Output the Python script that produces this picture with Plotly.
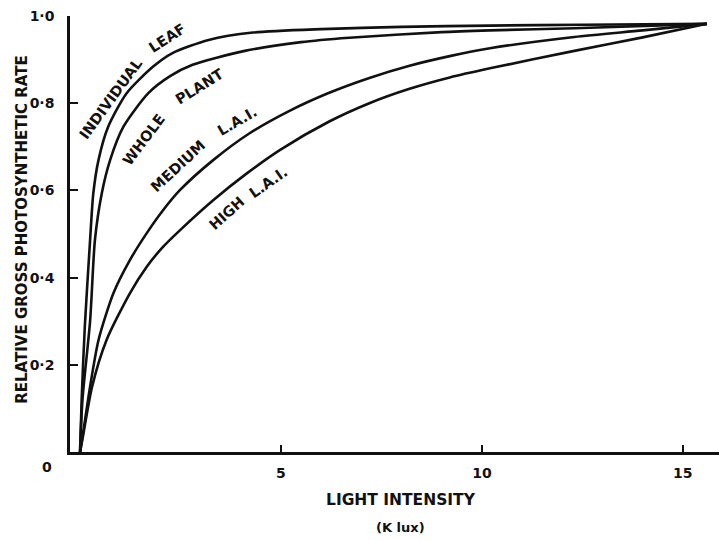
import plotly.graph_objects as go

# ---- data ----
series_names = ["INDIVIDUAL LEAF", "WHOLE PLANT", "MEDIUM L.A.I.", "HIGH L.A.I."]

leaf_x = [0, 0.04, 0.12, 0.25, 0.33, 0.46, 0.70, 1.16, 1.82, 2.3, 3.2, 4.3, 6.0, 8.0, 10.2, 12.5, 15.6]
leaf_y = [0, 0.12, 0.29, 0.486, 0.593, 0.67, 0.746, 0.823, 0.884, 0.915, 0.945, 0.962, 0.970, 0.975, 0.978, 0.980, 0.982]

plant_x = [0, 0.06, 0.25, 0.37, 0.54, 0.75, 1.08, 1.70, 2.24, 2.8, 4.1, 5.5, 6.7, 9.0, 10.2, 12.3, 15.6]
plant_y = [0, 0.12, 0.30, 0.486, 0.593, 0.67, 0.746, 0.823, 0.862, 0.888, 0.92, 0.94, 0.95, 0.963, 0.967, 0.972, 0.982]

medium_x = [0, 0.07, 0.25, 0.46, 0.83, 1.24, 1.66, 2.07, 2.49, 3.32, 4.2, 5.2, 6.2, 7.2, 8.2, 9.2, 10.2, 12.3, 14.0, 15.6]
medium_y = [0, 0.04, 0.15, 0.257, 0.364, 0.44, 0.502, 0.555, 0.601, 0.67, 0.73, 0.782, 0.824, 0.858, 0.886, 0.908, 0.926, 0.952, 0.967, 0.982]

high_x = [0, 0.07, 0.3, 0.66, 1.24, 1.66, 2.07, 2.49, 3.32, 4.15, 4.98, 6.2, 7.2, 8.2, 9.2, 10.2, 12.3, 14.0, 15.6]
high_y = [0, 0.035, 0.15, 0.257, 0.364, 0.425, 0.471, 0.509, 0.578, 0.639, 0.693, 0.758, 0.800, 0.833, 0.859, 0.880, 0.920, 0.951, 0.982]

x_tick_vals = [5, 10, 15]
x_tick_text = ["5", "10", "15"]
y_tick_vals = [0.2, 0.4, 0.6, 0.8, 1.0]
y_tick_text = ["0·2", "0·4", "0·6", "0·8", "1·0"]

# curve labels split into words that follow the curves
label_words = ["INDIVIDUAL", "LEAF", "WHOLE", "PLANT", "MEDIUM", "L.A.I.", "HIGH", "L.A.I."]
label_pos_x = [0.76, 2.17, 1.58, 2.96, 2.44, 3.92, 3.66, 4.70]
label_pos_y = [0.810, 0.950, 0.716, 0.837, 0.656, 0.759, 0.548, 0.619]
label_angle = [-54, -33, -53, -32, -43, -30, -42, -35]

FONT = "DejaVu Sans"
INK = "#111111"

fig = go.Figure()
for name, xs, ys in zip(series_names,
                        [leaf_x, plant_x, medium_x, high_x],
                        [leaf_y, plant_y, medium_y, high_y]):
    fig.add_trace(go.Scatter(x=xs, y=ys, mode="lines", name=name,
                             line=dict(color=INK, width=2.6, shape="spline", smoothing=0.7),
                             cliponaxis=False, showlegend=False))

annotations = []
for t, ax_, ay_, ang in zip(label_words, label_pos_x, label_pos_y, label_angle):
    annotations.append(dict(x=ax_, y=ay_, xref="x", yref="y", text=t, textangle=ang,
                            xanchor="center", yanchor="middle", showarrow=False,
                            font=dict(family=FONT, size=14.5, color=INK, weight="bold")))

annotations += [
    dict(x=-0.0354, y=-0.0344, xref="paper", yref="paper", text="0", showarrow=False,
         xanchor="center", yanchor="middle",
         font=dict(family=FONT, size=14, color=INK, weight="bold")),
    dict(x=-0.074, y=0.512, xref="paper", yref="paper", text="RELATIVE GROSS PHOTOSYNTHETIC RATE",
         textangle=-90, showarrow=False, xanchor="center", yanchor="middle",
         font=dict(family=FONT, size=15, color=INK, weight="bold")),
    dict(x=0.51, y=-0.11, xref="paper", yref="paper", text="LIGHT INTENSITY",
         showarrow=False, xanchor="center", yanchor="middle",
         font=dict(family=FONT, size=15.5, color=INK, weight="bold")),
    dict(x=0.51, y=-0.173, xref="paper", yref="paper", text="(K lux)",
         showarrow=False, xanchor="center", yanchor="middle",
         font=dict(family=FONT, size=13, color=INK, weight="bold")),
]

fig.update_layout(
    width=719, height=540,
    margin=dict(l=70, r=0, t=16, b=88, pad=0),
    paper_bgcolor="white", plot_bgcolor="white",
    annotations=annotations,
    xaxis=dict(range=[-0.25, 15.9], showgrid=False, zeroline=False,
               showline=True, linecolor=INK, linewidth=2.5,
               ticks="inside", ticklen=7, tickwidth=2, tickcolor=INK,
               tickvals=x_tick_vals, ticktext=x_tick_text, ticklabelstandoff=6,
               tickfont=dict(family=FONT, size=14, color=INK, weight="bold")),
    yaxis=dict(range=[0, 1.0], showgrid=False, zeroline=False,
               showline=True, linecolor=INK, linewidth=2.5,
               ticks="inside", ticklen=8, tickwidth=2, tickcolor=INK,
               tickvals=y_tick_vals, ticktext=y_tick_text, ticklabelstandoff=10,
               tickfont=dict(family=FONT, size=14, color=INK, weight="bold")),
)

fig.write_html("out.html")
